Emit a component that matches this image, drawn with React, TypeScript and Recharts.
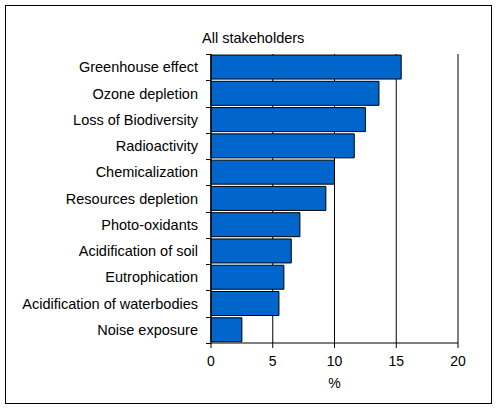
import { BarChart, Bar, XAxis, YAxis, CartesianGrid, Label } from "recharts";

const CATEGORIES = [
  "Greenhouse effect",
  "Ozone depletion",
  "Loss of Biodiversity",
  "Radioactivity",
  "Chemicalization",
  "Resources depletion",
  "Photo-oxidants",
  "Acidification of soil",
  "Eutrophication",
  "Acidification of waterbodies",
  "Noise exposure",
];

const SHARES = [15.4, 13.6, 12.5, 11.6, 10.0, 9.3, 7.2, 6.5, 5.9, 5.5, 2.5];

const X_TICKS = [0, 5, 10, 15, 20];

const TITLE = "All stakeholders";
const UNIT = "%";

const data = CATEGORIES.map((name, i) => ({ name, value: SHARES[i] }));

// Category label plus an Excel-style tick mark at the band boundary
function CategoryTick(props: any) {
  const { x, y, payload, index } = props;
  const half = payload && payload.offset ? payload.offset : 13.1;
  const axisX = x + 13;
  const top = Math.round(y - half) + 0.5;
  const bottom = Math.round(y + half) + 0.5;
  return (
    <g>
      <text x={x} y={y} dy="0.355em" textAnchor="end" fill="#000" fontSize={14.5}>
        {payload.value}
      </text>
      <path d={`M${axisX - 5},${top}H${axisX}`} stroke="#000" strokeWidth={1} />
      {index === CATEGORIES.length - 1 && (
        <path d={`M${axisX - 5},${bottom}H${axisX}`} stroke="#000" strokeWidth={1} />
      )}
    </g>
  );
}

export default function App() {
  return (
    <div
      style={{
        position: "relative",
        width: 499,
        height: 411,
        background: "#fff",
        fontFamily: '"Liberation Sans", Arial, sans-serif',
      }}
    >
      <style>{"body{margin:0}"}</style>
      <div
        style={{
          position: "absolute",
          left: 202,
          top: 30,
          fontSize: 14.5,
          lineHeight: "17px",
          color: "#000",
        }}
      >
        {TITLE}
      </div>
      <BarChart
        width={499}
        height={411}
        data={data}
        layout="vertical"
        margin={{ top: 54, right: 41, bottom: 18, left: 11 }}
        barCategoryGap="4%"
        style={{ position: "absolute", left: 0, top: 0 }}
      >
        <CartesianGrid horizontal={false} stroke="#000" strokeWidth={1} />
        <XAxis
          type="number"
          domain={[0, 20]}
          ticks={X_TICKS}
          interval={0}
          height={50}
          tickSize={5}
          tickMargin={8}
          axisLine={{ stroke: "#000" }}
          tickLine={{ stroke: "#000" }}
          tick={{ fill: "#000", fontSize: 14 }}
        >
          <Label value={UNIT} position="insideBottom" offset={5} fill="#000" fontSize={14} />
        </XAxis>
        <XAxis
          xAxisId="top"
          orientation="top"
          type="number"
          domain={[0, 20]}
          height={0}
          tick={false}
          tickLine={false}
          axisLine={{ stroke: "#000" }}
        />
        <YAxis
          type="category"
          dataKey="name"
          width={200}
          interval={0}
          tickSize={5}
          tickMargin={8}
          tickLine={false}
          axisLine={{ stroke: "#000" }}
          tick={<CategoryTick />}
        />
        <Bar dataKey="value" fill="#0066CC" stroke="#000" strokeWidth={1} isAnimationActive={false} />
        <rect x={5.5} y={5.5} width={486} height={398} fill="none" stroke="#000" strokeWidth={1} />
      </BarChart>
    </div>
  );
}
